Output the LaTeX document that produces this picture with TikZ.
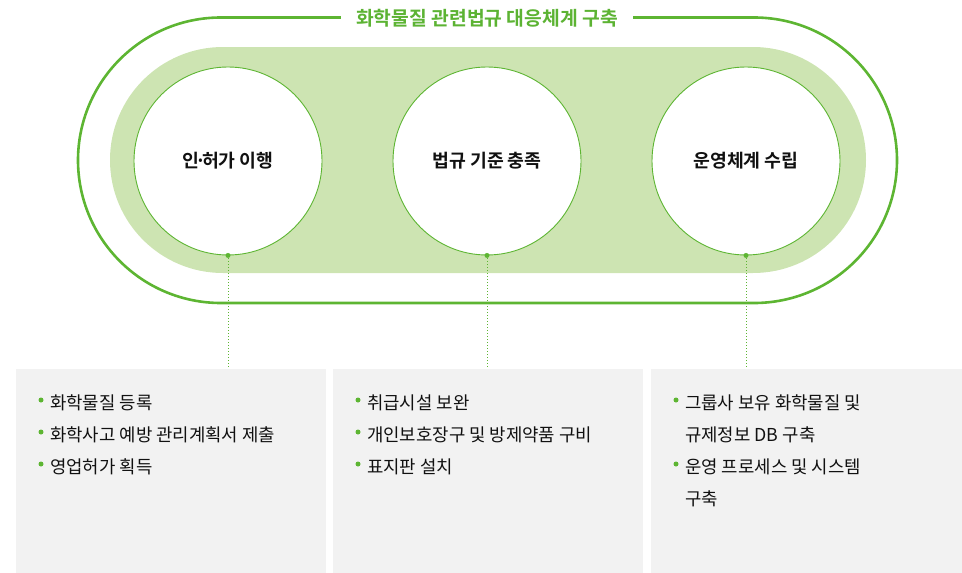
\documentclass[tikz,border=0pt]{standalone}
\usepackage{fontspec}
\setmainfont{Noto Sans CJK KR}
\newfontfamily\kbold{Noto Sans CJK KR Bold}
\definecolor{gline}{HTML}{5DB532}
\definecolor{gband}{HTML}{CDE4B2}
\definecolor{gtxt}{HTML}{5CB333}
\definecolor{boxbg}{HTML}{F2F2F2}
\definecolor{txt}{HTML}{111111}
\begin{document}
\begin{tikzpicture}[x=1pt,y=-1pt,
  stage/.style={circle,draw=gline,line width=0.9pt,fill=white,minimum size=188pt,inner sep=0pt,font=\kbold\fontsize{18.3}{20}\selectfont,text=txt},
  panel/.style={rectangle,fill=boxbg,draw=none,minimum width=310pt,minimum height=204pt,inner sep=0pt,anchor=north west},
  item/.style={anchor=west,inner sep=0pt,font=\fontsize{17.8}{20}\selectfont,text=txt},
  bul/.style={circle,fill=gline,minimum size=5pt,inner sep=0pt},
  link/.style={gline,line width=1pt,dotted},
  enddot/.style={circle,fill=gline,minimum size=5pt,inner sep=0pt}]
\useasboundingbox (0,0) rectangle (962,573);
% outer stadium
\draw[gline,line width=2.6pt,rounded corners=142.9pt] (78,17.5) rectangle (897,303);
% inner band
\fill[gband,rounded corners=112.9pt] (110,47) rectangle (866,273);
% title
\node[fill=white,inner xsep=15pt,inner ysep=4pt,text=gtxt,font=\kbold\fontsize{19.3}{22}\selectfont] (title) at (487,18) {화학물질 관련법규 대응체계 구축};
% circles
\node[stage] (c1) at (228,161) {인\kern-0.22em·\kern-0.22em허가 이행};
\node[stage] (c2) at (487,161) {법규 기준 충족};
\node[stage] (c3) at (746,161) {운영체계 수립};
% panels
\node[panel] (b1) at (16,369) {};
\node[panel] (b2) at (333,369) {};
\node[panel,minimum width=311pt] (b3) at (651,369) {};
% links
\foreach \c/\b in {c1/b1,c2/b2,c3/b3}{
  \draw[link] (\c.south) -- (\c.south |- \b.north);
  \node[enddot] at (\c.south) {};
}
% panel 1
\node[bul] (p1a) at (41,400) {};
\node[item] (t1a) at (50,403) {화학물질 등록};
\node[bul] (p1b) at (41,432) {};
\node[item] (t1b) at (50,435) {화학사고 예방 관리계획서 제출};
\node[bul] (p1c) at (41,464) {};
\node[item] (t1c) at (50,467) {영업허가 획득};
% panel 2
\node[bul] (p2a) at (358,400) {};
\node[item] (t2a) at (367,403) {취급시설 보완};
\node[bul] (p2b) at (358,432) {};
\node[item] (t2b) at (367,435) {개인보호장구 및 방제약품 구비};
\node[bul] (p2c) at (358,464) {};
\node[item] (t2c) at (367,467) {표지판 설치};
% panel 3
\node[bul] (p3a) at (676,400) {};
\node[item] (t3a) at (685,403) {그룹사 보유 화학물질 및};
\node[item] (t3b) at (685,435) {규제정보 DB 구축};
\node[bul] (p3c) at (676,464) {};
\node[item] (t3c) at (685,467) {운영 프로세스 및 시스템};
\node[item] (t3d) at (685,499) {구축};
\end{tikzpicture}
\end{document}
